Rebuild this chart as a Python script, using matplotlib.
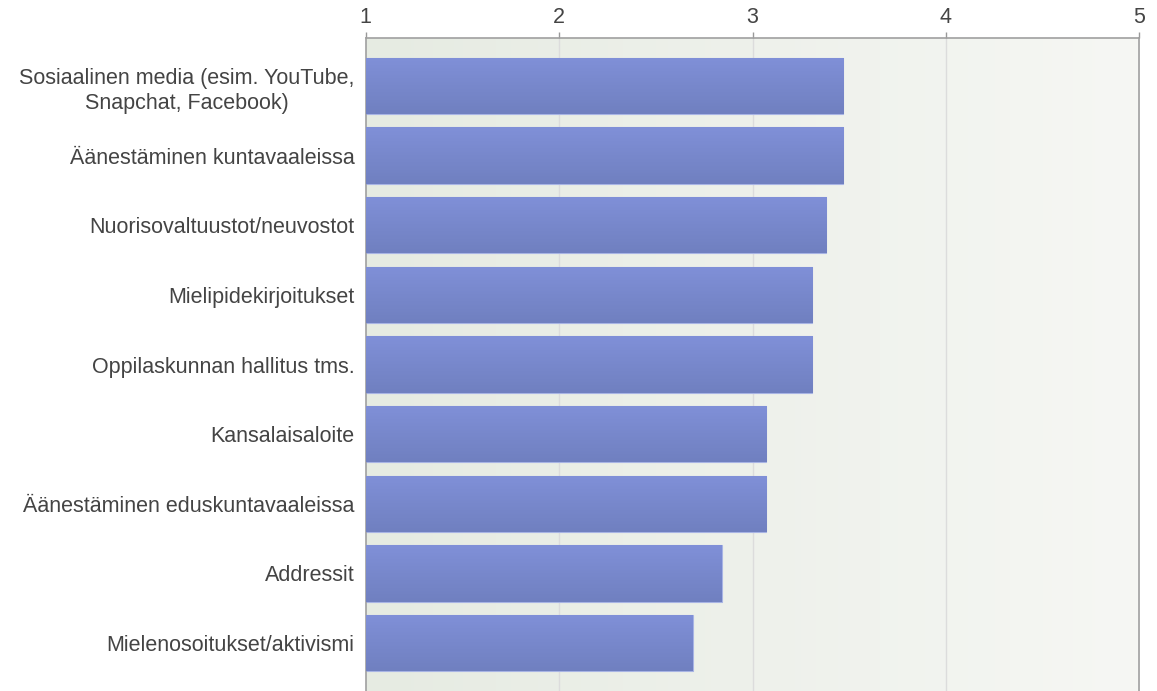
import numpy as np
import matplotlib
matplotlib.use("Agg")
from matplotlib import pyplot as plt
from matplotlib.colors import LinearSegmentedColormap

labels = ["Sosiaalinen media (esim. YouTube,\nSnapchat, Facebook)",
          "Äänestäminen kuntavaaleissa",
          "Nuorisovaltuustot/neuvostot",
          "Mielipidekirjoitukset",
          "Oppilaskunnan hallitus tms.",
          "Kansalaisaloite",
          "Äänestäminen eduskuntavaaleissa",
          "Addressit",
          "Mielenosoitukset/aktivismi"]
values = [3.47, 3.47, 3.38, 3.31, 3.31, 3.07, 3.07, 2.84, 2.69]
xticks = [1, 2, 3, 4, 5]

plt.rcParams['font.family'] = ['Liberation Sans', 'DejaVu Sans']

fig = plt.figure(figsize=(11.57, 6.91), dpi=100)
ax = fig.add_axes([0.316, 0.0, 0.6688, 0.945])

ymax = len(labels) - 1 + 0.69

# background gradient (greenish gray left -> almost white right)
bg = np.linspace(0, 1, 256).reshape(1, -1)
bgcmap = LinearSegmentedColormap.from_list("bg", ["#e6ebe2", "#f6f7f4"])
ax.imshow(bg, cmap=bgcmap, aspect='auto', extent=(1, 5, ymax, -0.69), zorder=0)

for x in xticks[1:-1]:
    ax.axvline(x, color="#dcdcdc", lw=1, zorder=1)

bars = ax.barh(range(len(labels)), [v - 1 for v in values], left=1, height=0.81,
               color="#7888cc", edgecolor="#a8b4e4", lw=0.8, zorder=2)

barcmap = LinearSegmentedColormap.from_list("bar", ["#8090d8", "#7080c0"])
grad = np.linspace(0, 1, 64).reshape(-1, 1)
for b in bars:
    x0, y0 = b.get_x(), b.get_y()
    w, h = b.get_width(), b.get_height()
    im = ax.imshow(grad, cmap=barcmap, aspect='auto',
                   extent=(x0, x0 + w, y0 + h, y0), zorder=3)
    im.set_clip_path(b)

ax.set_xlim(1, 5)
ax.set_ylim(ymax, -0.69)

ax.xaxis.tick_top()
ax.set_xticks(xticks)
ax.set_xticklabels([str(t) for t in xticks])
ax.set_yticks(range(len(labels)))
ax.set_yticklabels(labels, multialignment='center', linespacing=1.25)
ax.tick_params(axis='x', colors="#999999", labelcolor="#444444", labelsize=15.5,
               length=4, width=1, pad=3)
ax.tick_params(axis='y', length=0, labelsize=15.5, labelcolor="#444444", pad=8)

for s in ['top', 'left', 'right']:
    ax.spines[s].set_color("#a0a0a0")
    ax.spines[s].set_linewidth(1.2)
ax.spines['bottom'].set_visible(False)

fig.savefig("out.png", dpi=100)
